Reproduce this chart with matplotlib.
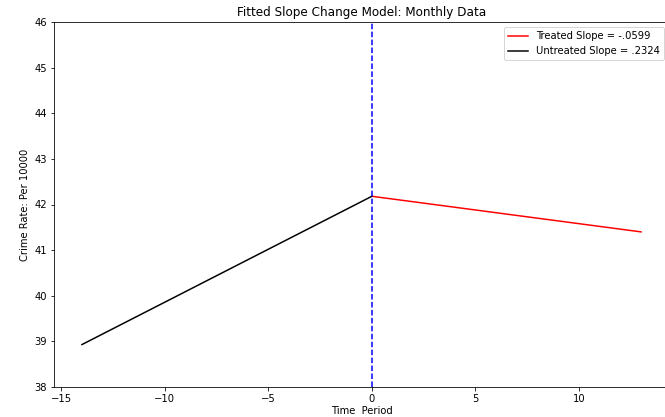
import matplotlib
matplotlib.use("Agg")
import matplotlib.pyplot as plt

# fitted segments
untreated_x = [-14, 0]
untreated_y = [38.93, 42.18]
treated_x = [0, 13]
treated_y = [42.18, 41.40]
cut_x = 0

fig = plt.figure(figsize=(665 / 72, 417 / 72), dpi=72)
ax = fig.add_axes([54 / 665, 1 - 387 / 417, (669 - 54) / 665, (387 - 22) / 417])

ax.plot(treated_x, treated_y, color='red', label='Treated Slope = -.0599')
ax.plot(untreated_x, untreated_y, color='black', label='Untreated Slope = .2324')
ax.axvline(cut_x, color='blue', linestyle='--')

ax.set_ylim(38, 46)
ax.set_xlim(-15.35, 14.35)
ax.set_title("Fitted Slope Change Model: Monthly Data")
ax.set_xlabel("Time  Period", labelpad=2)
ax.set_ylabel("Crime Rate: Per 10000")
ax.legend(loc='upper right')

fig.savefig("out.png", dpi=72)
